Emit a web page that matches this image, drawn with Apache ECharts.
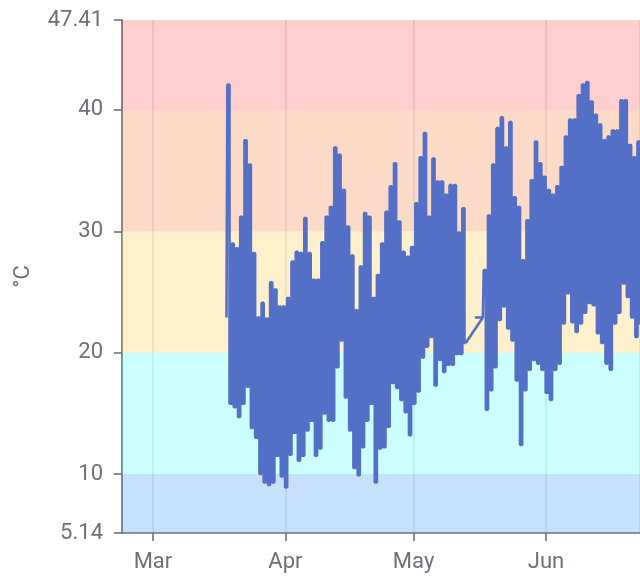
<!DOCTYPE html>
<html>
<head>
<meta charset="utf-8">
<script src="https://cdn.jsdelivr.net/npm/echarts@6/dist/echarts.min.js"></script>
<style>html,body{margin:0;padding:0;background:#fff;}#c{width:640px;height:576px;}</style>
</head>
<body>
<div id="c"></div>
<script>
// ---- data (year 2019) ----
const year = '2019';
const dates = ['03-18','03-19','03-20','03-21','03-22','03-23','03-24','03-25','03-26','03-27','03-28','03-29','03-30','03-31',
 '04-01','04-02','04-03','04-04','04-05','04-06','04-07','04-08','04-09','04-10','04-11','04-12','04-13','04-14','04-15',
 '04-16','04-17','04-18','04-19','04-20','04-21','04-22','04-23','04-24','04-25','04-26','04-27','04-28','04-29','04-30',
 '05-01','05-02','05-03','05-04','05-05','05-06','05-07','05-08','05-09','05-10','05-11','05-12','05-13',
 '05-17','05-18','05-19','05-20','05-21','05-22','05-23','05-24','05-25','05-26','05-27','05-28','05-29','05-30','05-31',
 '06-01','06-02','06-03','06-04','06-05','06-06','06-07','06-08','06-09','06-10','06-11','06-12','06-13','06-14','06-15',
 '06-16','06-17','06-18','06-19','06-20','06-21','06-22','06-23'];
const lows = [22.9,15.8,15.5,14.7,15.8,17.2,13.8,13.0,10.0,9.3,9.1,9.3,11.5,9.8,
 8.9,11.6,13.4,11.1,11.5,13.6,14.4,11.5,12.1,15.0,14.4,14.4,18.8,21.0,16.3,
 13.6,10.5,9.9,12.2,14.4,15.8,9.3,12.1,12.2,13.9,17.5,17.1,16.1,15.1,13.2,
 15.8,16.8,19.6,20.5,21.3,17.3,19.4,18.4,19.0,19.0,19.9,19.9,20.8,
 22.9,15.3,16.9,18.8,22.7,23.8,22.0,21.0,17.7,12.4,16.9,18.6,19.4,19.1,18.6,
 16.7,16.1,18.6,19.1,22.4,24.9,22.5,21.7,22.4,23.3,24.1,23.9,21.6,20.8,19.1,
 18.6,22.4,23.3,25.7,24.6,22.9,21.3,22.4];
const highs = [42.1,29.0,28.6,31.2,37.5,35.5,28.2,22.9,24.1,22.8,25.8,25.2,23.8,23.8,
 24.5,27.5,28.3,28.2,31.1,28.2,26.0,26.0,29.1,31.2,32.0,36.9,36.3,33.4,30.4,
 28.0,23.5,27.1,31.5,31.2,24.5,26.4,29.0,31.6,33.7,35.6,30.8,28.3,27.9,28.7,
 32.3,36.1,38.1,31.2,36.0,34.1,34.1,33.0,33.8,33.8,29.9,31.9,null,
 26.8,31.3,35.5,38.5,39.4,36.9,39.0,32.8,32.0,27.6,30.9,34.2,37.4,35.6,34.5,
 33.4,33.0,33.7,35.3,37.8,39.2,39.2,41.2,42.1,42.3,40.7,39.6,38.8,37.5,37.8,
 38.3,38.3,40.8,40.8,37.1,36.1,37.4,37.4];
const bandEdges = [5.14, 10, 20, 30, 40, 47.41];
const monthNames = ['Jan','Feb','Mar','Apr','May','Jun','Jul','Aug','Sep','Oct','Nov','Dec'];

// ---- build series ----
const stepData = [];
const gapLink = [];
dates.forEach((d, i) => {
  const tLow = year + '-' + d + ' 05:00';
  if (lows[i] != null) stepData.push([tLow, lows[i]]);
  if (highs[i] != null) {
    stepData.push([year + '-' + d + ' 15:00', highs[i]]);
  } else {
    // missing readings after this low: break the step line, link the gap with a straight segment
    gapLink.push([tLow, lows[i]]);
    gapLink.push([year + '-' + dates[i + 1] + ' 05:00', lows[i + 1]]);
    stepData.push([year + '-' + d + ' 12:00', null]);
  }
});
const bandColors = ['rgba(35,135,235,0.25)','rgba(51,255,255,0.25)','rgba(255,195,55,0.25)','rgba(243,107,35,0.25)','rgba(255,0,0,0.19)'];
const areas = [];
for (let i = 0; i < bandEdges.length - 1; i++) {
  areas.push([{ yAxis: bandEdges[i], itemStyle: { color: bandColors[i] } }, { yAxis: bandEdges[i + 1] }]);
}

const txt = '#6e7079';
const chart = echarts.init(document.getElementById('c'), null, { renderer: 'canvas' });
chart.setOption({
  animation: false,
  textStyle: { fontFamily: 'Roboto' },
  grid: { left: 122, top: 20, bottom: 43, right: 0 },
  xAxis: {
    type: 'time',
    min: year + '-02-21 18:00',
    max: year + '-06-23 00:00',
    splitNumber: 4,
    minInterval: 28 * 24 * 3600 * 1000,
    axisLine: { show: true, lineStyle: { color: txt, width: 1.6 } },
    axisTick: { show: true, length: 8, lineStyle: { color: txt, width: 1.6 } },
    axisLabel: {
      color: txt, fontSize: 22, margin: 18, fontFamily: 'Roboto',
      showMinLabel: false, showMaxLabel: false,
      formatter: function (v) {
        const dt = new Date(v);
        if (dt.getDate() !== 1 || dt.getHours() !== 0) return '';
        return monthNames[dt.getMonth()];
      }
    },
    splitLine: { show: true, lineStyle: { color: '#E0E6F1', width: 1.5 } }
  },
  yAxis: {
    type: 'value',
    min: 5.14,
    max: 47.41,
    name: '°C',
    nameLocation: 'middle',
    nameGap: 88,
    nameTextStyle: { color: txt, fontSize: 22, fontFamily: 'Roboto' },
    axisLine: { show: true, lineStyle: { color: txt, width: 1.6 } },
    axisTick: { show: true, length: 8, lineStyle: { color: txt, width: 1.6 } },
    axisLabel: { color: txt, fontSize: 22, margin: 19, fontFamily: 'Roboto' },
    splitLine: { show: false }
  },
  series: [{
    type: 'line',
    data: stepData,
    step: 'middle',
    connectNulls: false,
    showSymbol: false,
    symbol: 'none',
    sampling: null,
    lineStyle: { color: '#5470c6', width: 2.6 },
    markArea: { silent: true, data: areas }
  }, {
    type: 'line',
    data: gapLink,
    showSymbol: false,
    symbol: 'none',
    lineStyle: { color: '#5470c6', width: 2.6 }
  }]
});
</script>
</body>
</html>
